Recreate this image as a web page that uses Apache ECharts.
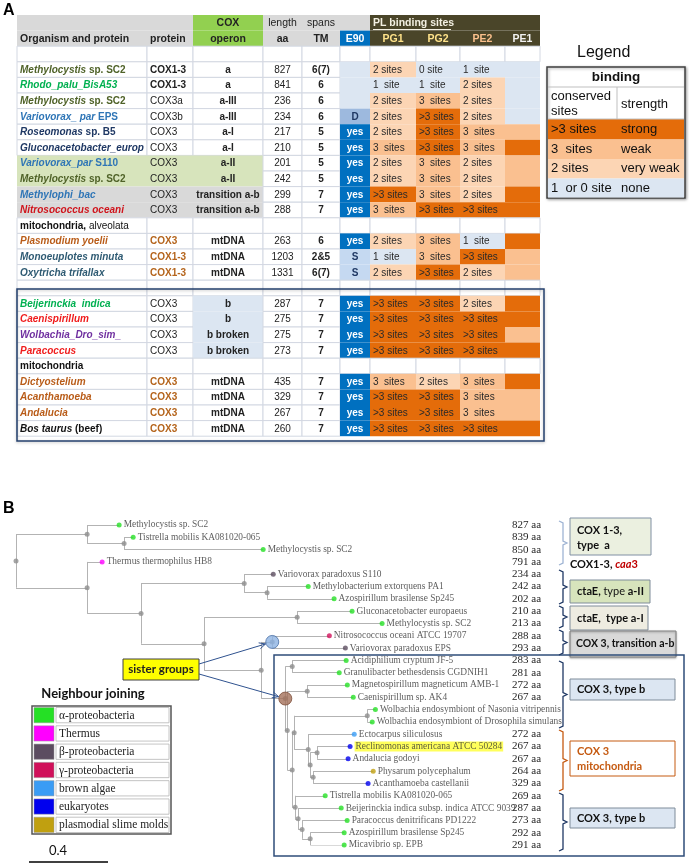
<!DOCTYPE html>
<html><head><meta charset="utf-8">
<script src="https://cdn.jsdelivr.net/npm/echarts@6/dist/echarts.min.js"></script>
<style>html,body{margin:0;padding:0;background:#fff}#c{width:689px;height:867px}</style>
</head><body><div id="c"></div>
<script>
// ================= DATA : panel A table =================
const organismItalic = ['Methylocystis','Rhodo_palu_BisA53','Methylocystis','Variovorax_ par','Roseomonas','Gluconacetobacter_europ','Variovorax_par','Methylocystis','Methylophi_bac','Nitrosococcus oceani','','Plasmodium yoelii','Monoeuplotes minuta','Oxytricha trifallax','','Beijerinckia  indica','Caenispirillum','Wolbachia_Dro_sim_','Paracoccus','','Dictyostelium','Acanthamoeba','Andalucia','Bos taurus'];
const organismBold = [' sp. SC2','',' sp. SC2',' EPS',' sp. B5','',' S110',' sp. SC2','','','mitochondria,','','','','','','','','','mitochondria','','','',' (beef)'];
const organismNormal = ['','','','','','','','','','',' alveolata','','','','','','','','','','','','',''];
const protein = ['COX1-3','COX1-3','COX3a','COX3b','COX3','COX3','COX3','COX3','COX3','COX3','','COX3','COX1-3','COX1-3','','COX3','COX3','COX3','COX3','','COX3','COX3','COX3','COX3'];
const operon = ['a','a','a-III','a-III','a-I','a-I','a-II','a-II','transition a-b','transition a-b','','mtDNA','mtDNA','mtDNA','','b','b','b broken','b broken','','mtDNA','mtDNA','mtDNA','mtDNA'];
const lengthAa = [827,841,236,234,217,210,201,242,299,288,null,263,1203,1331,null,287,275,275,273,null,435,329,267,260];
const tmSpans = ['6(7)','6','6','6','5','5','5','5','7','7','','6','2&5','6(7)','','7','7','7','7','','7','7','7','7'];
const e90 = ['','','','D','yes','yes','yes','yes','yes','yes',null,'yes','S','S',null,'yes','yes','yes','yes',null,'yes','yes','yes','yes'];
// conserved PL binding sites: 4 = ">3 sites", 3, 2, 1, 0
const pg1 = [2,1,2,2,2,3,2,2,4,3,null,2,1,2,null,4,4,4,4,null,3,4,4,4];
const pg2 = [0,1,3,4,4,4,3,3,3,4,null,3,3,4,null,4,4,4,4,null,2,4,4,4];
const pe2 = [1,2,2,2,3,3,2,2,2,4,null,1,4,2,null,2,4,4,4,null,3,3,3,4];
const pe1 = [0,0,0,0,3,4,3,3,4,4,null,4,3,3,null,4,4,3,4,null,4,3,3,4];
const siteHeaders = ['PG1','PG2','PE2','PE1'];
const legendSites = ['>3 sites','3  sites','2 sites','1  or 0 site'];
const legendStrength = ['strong','weak','very weak','none'];

// ================= DATA : panel B tree =================
const treeNewick =
"((Methylocystis sp. SC2:0.162,(Tistrella mobilis KA081020-065:0.046,Methylocystis sp. SC2:0.704):0.187):0.36," +
"(Thermus thermophilus HB8:0.076,(" +
"(Variovorax paradoxus S110:0.147,(Methylobacterium extorquens PA1:0.208,Azospirillum brasilense Sp245:0.339):0.116):0.522,(" +
"(Gluconacetobacter europaeus:0.278,Methylocystis sp. SC2:0.43):0.471,(" +
"(Nitrosococcus oceani ATCC 19707:0.289,Variovorax paradoxus EPS:0.37)sisterA:0.056,(" +
"(Acidiphilium cryptum JF-5:0.273,Granulibacter bethesdensis CGDNIH1:0.238):0.035,(" +
"(Magnetospirillum magneticum AMB-1:0.203,Caenispirillum sp. AK4:0.233):0.101,(" +
"((Wolbachia endosymbiont of Nasonia vitripennis:0.041,Wolbachia endosymbiont of Drosophila simulans:0.025):0.37," +
"(Ectocarpus siliculosus:0.233,((Reclinomonas americana ATCC 50284:0.167,Andalucia godoyi:0.157):0.035,(Physarum polycephalum:0.304,Acanthamoeba castellanii:0.278):0.015):0.01):0.071):0.01," +
"(Tistrella mobilis KA081020-065:0.152,(Beijerinckia indica subsp. indica ATCC 9039:0.218,(Paracoccus denitrificans PD1222:0.228,(Azospirillum brasilense Sp245:0.172,Micavibrio sp. EPB:0.172):0.041):0.02):0.015):0.015" +
"):0.025):0.01)sisterB:0.122):0.289):0.319):0.273):0.36);";
const leafGroup = ['a','a','a','t','b','a','a','a','a','g','b','a','a','a','a','a','a','ba','e','e','s','e','a','a','a','a','a'];
const leafAa = [827,839,850,791,234,242,202,210,213,288,293,283,281,272,267,null,null,272,267,267,264,329,269,287,273,292,291];
const njGroupKeys = ['a','t','b','g','ba','e','s'];
const njGroupNames = ['α-proteobacteria','Thermus','β-proteobacteria','γ-proteobacteria','brown algae','eukaryotes','plasmodial slime molds'];
const highlightLeaf = 'Reclinomonas americana ATCC 50284';
const scaleBarValue = 0.4;

// ================= STYLE =================
const SANS = 'Liberation Sans, Arial, sans-serif';
const SERIF = 'Liberation Serif, Times New Roman, serif';
const CAL = 'Lato, Open Sans, sans-serif';
const GREY = '#d9d9d9', GREEN = '#92d050', DARK = '#4a4529', GRID = '#d3d8e2';
const SITE_FILL = {4:'#e46c0a',3:'#fac090',2:'#fcd5b4',1:'#dce6f2',0:'#dce6f2'};
const SITE_TEXT = {4:'>3 sites',3:'3  sites',2:'2 sites',1:'1  site',0:'0 site'};
const ORG_COLOR = ['#4f6228','#00b050','#4f6228','#2e75b6','#1f3864','#1f3864','#2e75b6','#4f6228','#2e75b6','#d0141c','#111','#b95c18','#2f5b73','#2f5b73','#111','#00b050','#f01c1c','#7030a0','#f01c1c','#111','#b95c18','#b95c18','#b95c18','#111'];
const ROW_BG = {6:'#d7e4bc',7:'#d7e4bc',8:'#d9d9d9',9:'#d9d9d9'};
const OPERON_BG = {15:'#dce6f2',16:'#dce6f2',17:'#dce6f2',18:'#dce6f2'};
const PROT_STYLE = {0:'b',1:'b',11:'m',12:'m',13:'m',20:'m',21:'m',22:'m',23:'m'};
const GROUP_COLOR = {a:'#25e025',t:'#ff00ff',b:'#5c4d60',g:'#d0105a',ba:'#3a9cf5',e:'#0000ee',s:'#c0a010'};
const COL_W = [130,46,70,39,38,30,46,44,45,35];

// ================= TABLE CELLS =================
const colX = [0]; COL_W.forEach(w => colX.push(colX[colX.length-1] + w));
const cells = [];
function addCell(row, c0, c1, o) { cells.push(Object.assign({row, x0: colX[c0], x1: colX[c1+1]}, o)); }
const hfs = 10.5;
addCell(0,0,1,{fill:GREY});
addCell(0,2,2,{fill:GREEN,text:'COX',bold:true,align:'center',fs:hfs});
addCell(0,3,3,{fill:GREY,text:'length',align:'center',fs:hfs});
addCell(0,4,4,{fill:GREY,text:'spans',align:'center',fs:hfs});
addCell(0,5,5,{fill:GREY});
addCell(0,6,9,{fill:DARK,text:'PL binding sites',bold:true,color:'#f3f0e2',align:'left',fs:hfs});
addCell(1,0,0,{fill:GREY,text:'Organism and protein',bold:true,align:'left',fs:hfs});
addCell(1,1,1,{fill:GREY,text:'protein',bold:true,align:'left',fs:hfs});
addCell(1,2,2,{fill:GREEN,text:'operon',bold:true,align:'center',fs:hfs});
addCell(1,3,3,{fill:GREY,text:'aa',bold:true,align:'center',fs:hfs});
addCell(1,4,4,{fill:GREY,text:'TM',bold:true,align:'center',fs:hfs});
addCell(1,5,5,{fill:'#0070c0',text:'E90',bold:true,color:'#fff',align:'center',fs:hfs});
const hdrColors = ['#ffe38a','#ffe38a','#fbc08c','#f2f2f2'];
siteHeaders.forEach((h,i) => addCell(1,6+i,6+i,{fill:DARK,text:h,bold:true,color:hdrColors[i],align:'center',fs:hfs}));
for (let c = 0; c < 10; c++) addCell(2,c,c,{fill:'#fff',stroke:GRID});
organismItalic.forEach((_, k) => {
  const row = k + 3;
  const bg = ROW_BG[k] || '#fff';
  const col = ORG_COLOR[k];
  let rich = '';
  if (organismItalic[k]) rich += '{i|' + organismItalic[k] + '}';
  if (organismBold[k]) rich += '{b|' + organismBold[k] + '}';
  if (organismNormal[k]) rich += '{n|' + organismNormal[k] + '}';
  addCell(row,0,0,{fill:bg,stroke:bg==='#fff'?GRID:null,rich,color:col,align:'left'});
  const ps = PROT_STYLE[k] || 'n';
  addCell(row,1,1,{fill:bg,stroke:bg==='#fff'?GRID:null,text:protein[k],bold:ps!=='n',color:ps==='m'?'#b5651d':'#222',align:'left'});
  const obg = OPERON_BG[k] || bg;
  addCell(row,2,2,{fill:obg,stroke:obg==='#fff'?GRID:null,text:operon[k],bold:true,align:'center'});
  addCell(row,3,3,{fill:'#fff',stroke:GRID,text:lengthAa[k]==null?'':String(lengthAa[k]),align:'center'});
  addCell(row,4,4,{fill:'#fff',stroke:GRID,text:tmSpans[k],bold:true,align:'center'});
  const e = e90[k];
  if (e === null) addCell(row,5,5,{fill:'#fff',stroke:GRID});
  else if (e === 'yes') addCell(row,5,5,{fill:'#0070c0',text:'yes',bold:true,color:'#fff',align:'center'});
  else if (e === 'D') addCell(row,5,5,{fill:'#9db9de',text:'D',bold:true,color:'#1f3864',align:'center'});
  else if (e === 'S') addCell(row,5,5,{fill:'#c5d9f1',text:'S',bold:true,color:'#1f3864',align:'center'});
  else addCell(row,5,5,{fill:'#dce6f2'});
  [pg1,pg2,pe2,pe1].forEach((arr, j) => {
    const v = arr[k];
    if (v === null) addCell(row,6+j,6+j,{fill:'#fff',stroke:GRID});
    else addCell(row,6+j,6+j,{fill:SITE_FILL[v],text:j<3?SITE_TEXT[v]:'',color:'#2a2a2a',align:'left'});
  });
});
const tableRowIds = Array.from({length:27},(_,i)=>String(i));

function renderCell(params, api) {
  const c = cells[params.dataIndex];
  const p0 = api.coord([c.x0, c.row]);
  const p1 = api.coord([c.x1, c.row]);
  const h = api.size([0,1])[1];
  const x = p0[0], w = p1[0]-p0[0], y = p0[1]-h/2;
  const children = [{type:'rect', z2:0, shape:{x, y, width:w, height:h},
    style:{fill:c.fill, stroke:c.stroke||null, lineWidth:c.stroke?1:0}}];
  const fs = c.fs || 10;
  const tx = c.align==='left' ? x+3 : x+w/2;
  if (c.rich) {
    const base = {fill:c.color, fontSize:fs, fontFamily:SANS};
    children.push({type:'text', z2:10, style:{text:c.rich, x:tx, y:p0[1]+0.5, align:'left', verticalAlign:'middle',
      textAlign:'left', textVerticalAlign:'middle', fontSize:fs, fontFamily:SANS, fill:c.color,
      rich:{i:Object.assign({fontStyle:'italic',fontWeight:'bold'},base), b:Object.assign({fontWeight:'bold'},base), n:Object.assign({fontWeight:'normal'},base)}}});
  } else if (c.text) {
    children.push({type:'text', z2:10, style:{text:c.text, x:tx, y:p0[1]+0.5, align:c.align, verticalAlign:'middle',
      textAlign:c.align, textVerticalAlign:'middle', fill:c.color||'#222', fontSize:fs, fontFamily:SANS,
      fontWeight:c.bold?'bold':'normal'}});
  }
  return {type:'group', children};
}

// ================= TREE =================
function parseNewick(s) {
  let i = 0;
  function node() {
    const n = {children:[], name:'', len:0};
    if (s[i] === '(') {
      i++; n.children.push(node());
      while (s[i] === ',') { i++; n.children.push(node()); }
      i++;
    }
    let st = i; while (i < s.length && ':,);'.indexOf(s[i]) < 0) i++;
    n.name = s.slice(st, i).trim();
    if (s[i] === ':') { i++; st = i; while (i < s.length && ',);'.indexOf(s[i]) < 0) i++; n.len = parseFloat(s.slice(st, i)); }
    return n;
  }
  return node();
}
const root = parseNewick(treeNewick);
const leaves = [], internals = [], segs = [];
let leafCount = 0;
(function layout(n, px) {
  n.x = px + n.len;
  if (!n.children.length) { n.y = ++leafCount; leaves.push(n); return; }
  n.children.forEach(c => layout(c, n.x));
  const a = n.children[0], b = n.children[n.children.length-1];
  n.y = (a.y + b.y) / 2;
  internals.push(n);
  segs.push({coords:[[n.x, a.y],[n.x, b.y]]});
  n.children.forEach(c => segs.push({coords:[[n.x, c.y],[c.x, c.y]]}));
})(root, 0);
const sisterNodes = internals.filter(n => n.name === 'sisterA' || n.name === 'sisterB');

const chart = echarts.init(document.getElementById('c'));
chart.setOption({
  animation:false,
  grid:[{left:17,top:15,width:523,height:421.2},{left:16,top:525,width:488,height:320}],
  xAxis:[{gridIndex:0,type:'value',min:0,max:523,show:false},
         {gridIndex:1,type:'value',min:0,max:2.47,show:false}],
  yAxis:[{gridIndex:0,type:'category',data:tableRowIds,inverse:true,show:false},
         {gridIndex:1,type:'value',min:1,max:27,inverse:true,show:false},
         {gridIndex:1,type:'category',data:leafAa.map((_,i)=>String(i)),inverse:true,boundaryGap:false,position:'right',
          axisLine:{show:false},axisTick:{show:false},splitLine:{show:false},
          axisLabel:{interval:0,margin:8,fontFamily:SERIF,fontSize:11,color:'#262626',
            formatter:(v,i)=> leafAa[i]==null ? '' : leafAa[i]+' aa'}}],
  series:[
    {type:'custom', xAxisIndex:0, yAxisIndex:0, silent:true, clip:false,
     data: cells.map(c => [c.x0, c.row, c.x1]), encode:{x:[0,2], y:1}, renderItem: renderCell},
    {type:'lines', coordinateSystem:'cartesian2d', xAxisIndex:1, yAxisIndex:1, silent:true, z:1,
     lineStyle:{color:'#b3b3b3', width:1, opacity:1}, data: segs},
    {type:'scatter', xAxisIndex:1, yAxisIndex:1, silent:true, z:2, symbolSize:5,
     itemStyle:{color:'#8e8e8e'}, data: internals.map(n => [n.x, n.y])},
    {type:'scatter', xAxisIndex:1, yAxisIndex:1, silent:true, z:3, symbolSize:5,
     label:{show:true, position:'right', distance:2, formatter:'{b}', fontFamily:SERIF, fontSize:9.4, color:'#333'},
     data: leaves.map((n,k) => {
       const d = {name:n.name, value:[n.x, n.y], itemStyle:{color:GROUP_COLOR[leafGroup[k]]}};
       if (n.name === highlightLeaf) d.label = {backgroundColor:'#ffff33', padding:[1,1,0,1]};
       return d;
     })},
    {type:'scatter', xAxisIndex:1, yAxisIndex:1, silent:true, z:4, symbolSize:13,
     data: sisterNodes.map(n => ({value:[n.x, n.y], itemStyle: n.name==='sisterA'
       ? {color:'#8db3e2', borderColor:'#4a6fa5', borderWidth:1}
       : {color:'#a4705a', borderColor:'#7d4e3a', borderWidth:1}}))}
  ]
});

// ================= ANNOTATIONS =================
function T(x, y, text, font, fill, align, extra) {
  return {type:'text', silent:true, z:50, style:Object.assign({x, y, text, font, fill:fill||'#111',
    align:align||'left', textAlign:align||'left', verticalAlign:'middle', textVerticalAlign:'middle'}, extra||{})};
}
function R(x, y, w, h, fill, stroke, lw, extra) {
  return {type:'rect', silent:true, z:40, shape:{x, y, width:w, height:h},
    style:Object.assign({fill:fill, stroke:stroke||null, lineWidth:lw||1}, extra||{})};
}
function P(points, stroke, lw) {
  return {type:'polyline', silent:true, z:45, shape:{points}, style:{stroke, lineWidth:lw||1, fill:null}};
}
const g = [];
g.push(T(3, 11, 'A', 'bold 16px '+SANS, '#000'));
g.push(T(3, 509, 'B', 'bold 16px '+SANS, '#000'));
g.push(P([[373,29.5],[451,29.5]], '#f3f0e2', 1));
g.push(R(17, 289, 527, 152, 'none', '#24406e', 1.5, {shadowColor:'rgba(0,0,0,0.25)', shadowBlur:3, shadowOffsetY:1}));
// binding legend
g.push(T(577, 53, 'Legend', '16px '+SANS, '#111'));
g.push(R(547, 67, 138, 131, '#fff', '#404040', 1.5, {shadowColor:'rgba(0,0,0,0.35)', shadowBlur:3, shadowOffsetX:1, shadowOffsetY:1}));
const lgTops = [119, 139.5, 159, 178.5, 197.5];
[4,3,2,1].forEach((lv, i) => g.push(R(548, lgTops[i], 136, lgTops[i+1]-lgTops[i], SITE_FILL[lv], null)));
g.push(P([[548,87],[684,87]], '#bfbfbf', 1));
g.push(P([[548,119],[684,119]], '#bfbfbf', 1));
g.push(P([[617,87],[617,119]], '#bfbfbf', 1));
g.push(T(616, 77, 'binding', 'bold 13.5px '+SANS, '#111', 'center'));
g.push(T(551, 96, 'conserved', '13px '+SANS, '#111'));
g.push(T(551, 111, 'sites', '13px '+SANS, '#111'));
g.push(T(621, 104, 'strength', '13px '+SANS, '#111'));
legendSites.forEach((s, i) => {
  const cy = (lgTops[i] + lgTops[i+1]) / 2;
  g.push(T(551, cy, s, '13px '+SANS, '#111'));
  g.push(T(621, cy, legendStrength[i], '13px '+SANS, '#111'));
});
// right-side brackets and boxes (panel B)
function bracket(y1, y2, color) {
  const m = (y1 + y2) / 2;
  g.push(P([[559,y1],[563,y1+2],[563,m-2],[567,m],[563,m+2],[563,y2-2],[559,y2]], color, 1.3));
}
bracket(521, 565, '#9fb4d4');
bracket(570, 604, '#1f3864');
bracket(606, 628, '#1f3864');
bracket(630, 655, '#1f3864');
bracket(661, 728, '#1f3864');
bracket(730, 791, '#c55a11');
bracket(793, 851, '#1f3864');
const bf = 'bold 11px '+CAL;
g.push(R(570, 518, 81, 37, '#ebf0e0', '#8090a4', 1));
g.push(T(577, 530, 'COX 1-3,', bf, '#111'));
g.push(T(577, 545, 'type  a', bf, '#111'));
g.push(T(570, 564, 'COX1-3, {r|caa}{r2|3}', bf, '#111', 'left', {rich:{r:{fill:'#c00000', fontStyle:'italic', fontWeight:'bold', fontSize:11, fontFamily:CAL}, r2:{fill:'#c00000', fontWeight:'bold', fontSize:11, fontFamily:CAL}}}));
g.push(R(570, 580, 80, 23, '#d7e4bc', '#7f8c9a', 1));
g.push(T(577, 591.5, 'ctaE, {n|type} a-II', bf, '#111', 'left', {rich:{n:{fontWeight:'normal', fontSize:11, fontFamily:CAL, fill:'#111'}}}));
g.push(R(570, 606, 78, 24, '#eeece1', '#7f8c9a', 1));
g.push(T(577, 618, 'ctaE,  type a-I', bf, '#111'));
g.push(R(570, 631, 106, 26, '#d9d9d9', '#7f7f7f', 1, {shadowColor:'rgba(0,0,0,0.3)', shadowBlur:2, shadowOffsetY:1}));
g.push(T(576, 644, 'COX 3, transition a-b', 'bold 10.5px '+CAL, '#111'));
g.push(R(274, 655, 410, 201, 'none', '#2f4d7a', 1.5));
g.push(R(570, 679, 105, 21, '#dce6f2', '#7f8c9a', 1));
g.push(T(577, 689.5, 'COX 3, type b', bf, '#111'));
g.push(R(570, 741, 105, 35, '#fff', '#c55a11', 1));
g.push(T(577, 751.5, 'COX 3', bf, '#c55a11'));
g.push(T(577, 766.5, 'mitochondria', bf, '#c55a11'));
g.push(R(570, 808, 105, 20, '#dce6f2', '#7f8c9a', 1));
g.push(T(577, 818, 'COX 3, type b', bf, '#111'));
// sister groups
g.push(R(123, 659, 76, 21, '#ffff00', '#404040', 1));
g.push(T(161, 669.5, 'sister groups', 'bold 11.5px '+CAL, '#222', 'center'));
function arrow(x1, y1, x2, y2, r) {
  const dx = x2-x1, dy = y2-y1, L = Math.hypot(dx, dy);
  const ux = dx/L, uy = dy/L;
  const ex = x2 - ux*r, ey = y2 - uy*r;
  const a = 0.45, hl = 7;
  const h1 = [ex - hl*(ux*Math.cos(a) - uy*Math.sin(a)), ey - hl*(uy*Math.cos(a) + ux*Math.sin(a))];
  const h2 = [ex - hl*(ux*Math.cos(a) + uy*Math.sin(a)), ey - hl*(uy*Math.cos(a) - ux*Math.sin(a))];
  g.push(P([[x1,y1],[ex,ey]], '#2f528f', 1));
  g.push(P([h1,[ex,ey],h2], '#2f528f', 1));
}
sisterNodes.forEach(n => {
  const p = chart.convertToPixel({seriesIndex:4}, [n.x, n.y]);
  if (n.name === 'sisterA') arrow(199, 664, p[0], p[1], 7);
  else arrow(199, 674, p[0], p[1], 7);
});
// Neighbour joining legend
g.push(T(93, 694, 'Neighbour joining', 'bold 13px '+CAL, '#111', 'center'));
const lx = 32, ly = 706, rowH = 128/7;
g.push(R(lx, ly, 139, 128, '#fff', '#555', 1.5));
njGroupKeys.forEach((k, i) => {
  const y = ly + i*rowH;
  g.push(R(lx+2, y+1.5, 20, rowH-3, GROUP_COLOR[k], '#9a9a9a', 0.5));
  g.push(R(lx+24, y+1.5, 113, rowH-3, '#fff', '#b5b5b5', 0.8));
  g.push(T(lx+27, y+rowH/2+0.5, njGroupNames[i], '11.5px '+SERIF, '#222'));
});
// scale bar
const s0 = chart.convertToPixel({seriesIndex:3}, [0, 1]);
const s1 = chart.convertToPixel({seriesIndex:3}, [scaleBarValue, 1]);
const sbLen = s1[0] - s0[0];
g.push(P([[29, 862], [29 + sbLen, 862]], '#000', 1.5));
g.push(T(58, 851, String(scaleBarValue), '13px '+CAL, '#111', 'center'));
chart.setOption({graphic: g});
</script>
</body></html>
